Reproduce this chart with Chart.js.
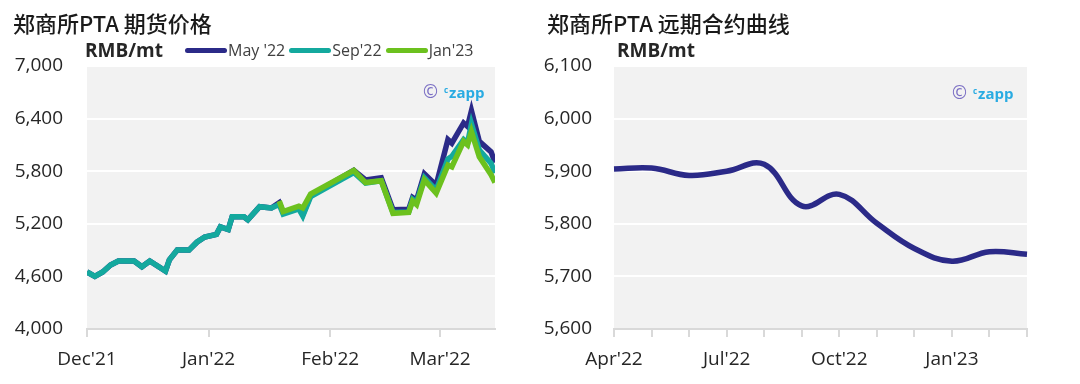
<!DOCTYPE html>
<html>
<head>
<meta charset="utf-8">
<script src="https://cdn.jsdelivr.net/npm/chart.js@4.4.1/dist/chart.umd.min.js"></script>
<style>
  html, body { margin: 0; padding: 0; background: #fff; }
  body { width: 1080px; height: 384px; position: relative; overflow: hidden;
         font-family: "Open Sans", "Noto Sans", sans-serif; color: #262626; }
  .panel { position: absolute; top: 0; width: 540px; height: 384px; }
  .panel canvas { position: absolute; left: 0; top: 0; }
  .title { position: absolute; top: 11px; font: 500 22px/22px "Noto Sans CJK SC", sans-serif; color: #1a1a1a; white-space: nowrap; }
  .unit { position: absolute; top: 40px; font: 700 19px/20px "Open Sans", sans-serif; color: #262626; }
  .legend { position: absolute; top: 40px; left: 185px; display: flex; align-items: center; font-size: 16px; line-height: 20px; color: #404040; z-index: 2; }
  .legend .item { display: flex; align-items: center; margin-right: 4px; }
  .legend .swatch { width: 42px; height: 5px; border-radius: 3px; margin-right: 1px; }
  .mark { position: absolute; font: 700 15px/18px "Open Sans", sans-serif; color: #29abe2; white-space: nowrap; z-index: 2; }
  .mark .c { color: #7b6fc4; font-weight: 400; font-size: 18px; margin-right: 6px; }
  .mark sup { font-size: 8px; vertical-align: 5px; margin-right: 1px; }
</style>
</head>
<body>

<div class="panel" style="left:0">
  <canvas id="futures" width="540" height="384"></canvas>
  <div class="title" style="left:13px">郑商所PTA 期货价格</div>
  <div class="unit" style="left:85px">RMB/mt</div>
  <div class="legend" id="legend"></div>
  <div class="mark" style="left:423px; top:81px"><span class="c">©</span><sup>c</sup>zapp</div>
</div>

<div class="panel" style="left:540px">
  <canvas id="curve" width="540" height="384"></canvas>
  <div class="title" style="left:7px">郑商所PTA 远期合约曲线</div>
  <div class="unit" style="left:77px">RMB/mt</div>
  <div class="mark" style="left:412px; top:82px"><span class="c">©</span><sup>c</sup>zapp</div>
</div>

<script>
// --- left chart: daily futures prices (x = days since 1 Dec 2021) ---
const tradeDays = [0, 2, 4, 6, 8, 12, 14, 16, 20, 21, 23, 26, 28, 30, 33, 34, 36, 37, 40, 41, 44, 47,
                   49, 50, 54, 55, 57, 68, 71, 75, 78, 82, 83, 84, 86, 89, 92, 93, 96, 97, 98, 100, 103, 104];
const may22 = [4650, 4600, 4650, 4730, 4775, 4775, 4710, 4775, 4660, 4790, 4900, 4900, 4990, 5050, 5080, 5165, 5135, 5280, 5280, 5245, 5395, 5380,
               5440, 5330, 5385, 5305, 5525, 5810, 5700, 5725, 5360, 5365, 5500, 5470, 5770, 5640, 6160, 6120, 6350, 6310, 6490, 6140, 6020, 5900];
const sep22 = [4650, 4600, 4650, 4730, 4775, 4775, 4710, 4775, 4660, 4790, 4900, 4900, 4990, 5050, 5080, 5165, 5135, 5280, 5280, 5245, 5395, 5380,
               5420, 5310, 5370, 5290, 5510, 5785, 5665, 5690, 5330, 5335, 5480, 5445, 5725, 5585, 5940, 5970, 6160, 6120, 6340, 6040, 5890, 5780];
const jan23 = [null, null, null, null, null, null, null, null, null, null, null, null, null, null, null, null, null, null, null, null, null, null,
               5460, 5340, 5400, 5380, 5540, 5810, 5670, 5690, 5320, 5330, 5460, 5420, 5700, 5550, 5870, 5850, 6140, 6100, 6250, 5965, 5760, 5670];
const monthTickDays = [0, 31, 62, 90];
const monthTickLabels = ["Dec'21", "Jan'22", "Feb'22", "Mar'22"];
const futuresTicks = [4000, 4600, 5200, 5800, 6400, 7000];

const seriesNames = ["May '22", "Sep'22", "Jan'23"];
const seriesColors = ['#2b2a88', '#14a99e', '#6cc11e'];

// --- right chart: forward curve ---
const curveMonths = ["Apr'22", "May'22", "Jun'22", "Jul'22", "Aug'22", "Sep'22", "Oct'22", "Nov'22", "Dec'22", "Jan'23", "Feb'23", "Mar'23"];
const curveValues = [5904, 5906, 5892, 5900, 5913, 5834, 5856, 5801, 5753, 5729, 5747, 5742];
const curveTicks = [5600, 5700, 5800, 5900, 6000, 6100];

const tickFont = { family: 'Open Sans', size: 19 };
const fmt = v => Number(v).toLocaleString('en-US');

const plotBg = {
  id: 'plotBg',
  beforeDraw(chart) {
    const { ctx, chartArea: a } = chart;
    ctx.save();
    ctx.fillStyle = '#f2f2f2';
    ctx.fillRect(a.left, a.top, a.right - a.left, a.bottom - a.top);
    ctx.restore();
  }
};

function yAxis(min, max, ticks, width, pad) {
  return {
    min, max,
    afterBuildTicks: s => { s.ticks = ticks.map(v => ({ value: v })); },
    afterFit: s => { s.width = width; },
    border: { display: false },
    grid: {
      drawTicks: false,
      lineWidth: 2,
      color: c => (c.tick && c.tick.value === min) ? 'rgba(0,0,0,0)' : '#ffffff'
    },
    ticks: { font: tickFont, color: '#262626', padding: pad, callback: v => fmt(v) }
  };
}

function xGrid() {
  return { drawOnChartArea: false, drawTicks: true, tickLength: 8, color: '#d9d9d9', lineWidth: 2 };
}

const toPoints = vals => tradeDays.map((d, i) => ({ x: d, y: vals[i] }));

// legend built from the series names/colours
document.getElementById('legend').innerHTML = seriesNames.map((n, i) =>
  `<span class="item"><span class="swatch" style="background:${seriesColors[i]}"></span>${n}</span>`).join('');

new Chart(document.getElementById('futures'), {
  type: 'line',
  data: {
    datasets: [may22, sep22, jan23].map((vals, i) => ({
      label: seriesNames[i],
      data: toPoints(vals),
      borderColor: seriesColors[i],
      borderWidth: 5.5,
      pointRadius: 0,
      tension: 0,
      spanGaps: false,
      order: 3 - i
    }))
  },
  options: {
    responsive: false,
    animation: false,
    layout: { padding: { top: 66, right: 45, left: 0, bottom: 0 } },
    plugins: { legend: { display: false }, tooltip: { enabled: false } },
    scales: {
      x: {
        type: 'linear',
        min: 0, max: 104,
        afterBuildTicks: s => { s.ticks = monthTickDays.map(v => ({ value: v })); },
        afterFit: s => { s.height = 55; },
        border: { display: true, color: '#d9d9d9', width: 2 },
        grid: xGrid(),
        ticks: {
          font: tickFont, color: '#262626', padding: 11, maxRotation: 0,
          callback: v => monthTickLabels[monthTickDays.indexOf(v)]
        }
      },
      y: yAxis(4000, 7000, futuresTicks, 87, 24)
    }
  },
  plugins: [plotBg]
});

new Chart(document.getElementById('curve'), {
  type: 'line',
  data: {
    labels: curveMonths,
    datasets: [{
      label: 'Forward curve',
      data: curveValues,
      borderColor: '#2b2a88',
      borderWidth: 5.5,
      pointRadius: 0,
      tension: 0.4
    }]
  },
  options: {
    responsive: false,
    animation: false,
    layout: { padding: { top: 66, right: 53, left: 0, bottom: 0 } },
    plugins: { legend: { display: false }, tooltip: { enabled: false } },
    scales: {
      x: {
        type: 'category',
        offset: false,
        afterFit: s => { s.height = 55; },
        border: { display: true, color: '#d9d9d9', width: 2 },
        grid: xGrid(),
        ticks: {
          font: tickFont, color: '#262626', padding: 11, maxRotation: 0, autoSkip: false,
          callback: (v, i) => (i % 3 === 0 ? curveMonths[i] : '')
        }
      },
      y: yAxis(5600, 6100, curveTicks, 74, 22)
    }
  },
  plugins: [plotBg]
});
</script>
</body>
</html>
